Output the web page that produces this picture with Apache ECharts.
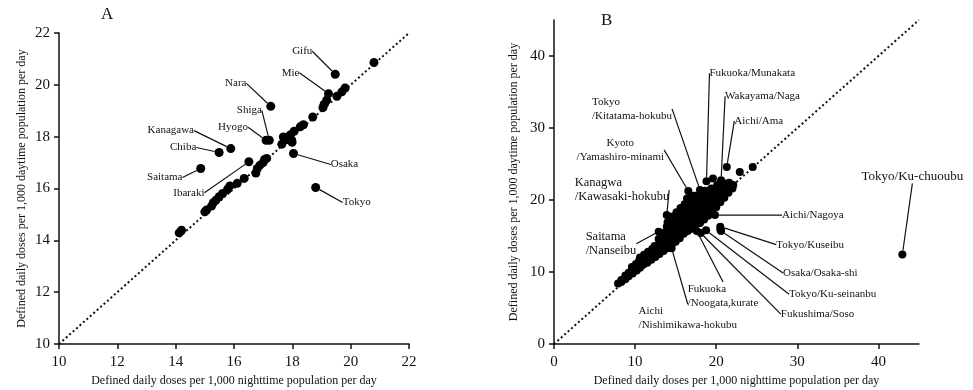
<!DOCTYPE html>
<html><head><meta charset="utf-8">
<script src="https://cdn.jsdelivr.net/npm/echarts@6/dist/echarts.min.js"></script>
<style>html,body{margin:0;padding:0;background:#fff}#c{width:973px;height:390px}</style>
</head><body><div id="c"></div>
<script>
// ---------- tick labels ----------
const ticksA = [10, 12, 14, 16, 18, 20, 22];
const ticksB = [0, 10, 20, 30, 40];
const identityA = [10, 22];
const identityB = [0, 45];

// ---------- Panel A: prefectures (nighttime DDD, daytime DDD) ----------
const prefOther = [
  [20.8,20.86],[19.53,19.56],[19.7,19.73],[19.81,19.88],[19.18,19.41],[19.09,19.25],
  [19.05,19.12],[18.7,18.76],[18.38,18.46],[18.27,18.38],[18.06,18.21],[17.92,18.06],
  [17.69,17.99],[17.81,17.89],[17.98,17.86],[17.64,17.71],[17.99,17.78],[17.12,17.16],
  [17.0,17.0],[16.89,16.9],[16.8,16.77],[16.75,16.6],[16.35,16.39],[16.11,16.2],
  [15.86,16.1],[15.78,15.97],[15.61,15.81],[15.49,15.68],[15.38,15.55],[15.29,15.45],
  [15.23,15.32],[15.0,15.1],[15.06,15.17],[14.2,14.39],[14.12,14.29],[17.05,17.12]
];
const prefNames = ['Gifu','Mie','Nara','Shiga','Hyogo','Kanagawa','Chiba','Saitama','Ibaraki','Osaka','Tokyo'];
const prefValues = [
  [19.47,20.41],[19.24,19.66],[17.26,19.17],[17.21,17.86],[17.1,17.86],[15.89,17.54],
  [15.49,17.39],[14.86,16.77],[16.51,17.03],[18.04,17.35],[18.8,16.04]
];

// ---------- Panel B: secondary medical areas ----------
const areaOther = [
  [7.9,8.4],[8.3,8.6],[8.3,8.9],[8.8,9.0],[8.8,9.5],[9.2,9.4],[9.2,9.9],[9.7,9.8],[9.7,10.3],[9.6,10.7],
  [10.2,10.2],[10.2,10.7],[10.1,11.1],[10.6,10.6],[10.6,11.1],[10.5,11.6],[10.6,12.0],
  [11.0,11.0],[11.0,11.5],[11.0,12.0],[11.1,12.4],[11.5,11.3],[11.5,11.8],[11.5,12.3],[11.6,12.8],
  [12.0,11.7],[12.0,12.2],[12.0,12.7],[12.1,13.2],[12.5,12.1],[12.5,12.6],[12.5,13.1],[12.4,13.6],
  [13.0,12.5],[13.0,13.0],[13.0,13.5],[13.0,14.0],[12.9,14.6],[13.5,12.9],[13.5,13.4],[13.5,13.9],
  [13.5,14.4],[13.4,14.9],[13.5,15.4],[14.0,13.3],[14.0,13.8],[14.0,14.3],[14.0,14.8],[14.0,15.3],
  [14.0,15.8],[13.9,16.3],[14.0,16.9],[14.5,13.8],[14.5,14.3],[14.5,14.8],[14.5,15.3],[14.5,15.8],
  [14.5,16.3],[14.5,16.8],[14.4,17.3],[14.6,17.7],[15.0,14.2],[15.0,14.7],[15.0,15.2],[15.0,15.7],
  [15.0,16.2],[15.0,16.7],[15.0,17.2],[15.0,17.7],[15.1,18.3],[15.5,14.7],[15.5,15.2],[15.5,15.7],
  [15.5,16.2],[15.5,16.7],[15.5,17.2],[15.5,17.7],[15.5,18.2],[15.6,18.9],[16.0,15.3],[16.0,15.8],
  [16.0,16.3],[16.0,16.8],[16.0,17.3],[16.0,17.8],[16.0,18.3],[16.0,18.8],[16.1,19.4],[16.5,15.7],
  [16.5,16.2],[16.5,16.7],[16.5,17.2],[16.5,17.7],[16.5,18.2],[16.5,18.7],[16.5,19.2],[16.5,19.7],
  [16.4,20.2],[17.0,16.0],[17.0,16.5],[17.0,17.0],[17.0,17.5],[17.0,18.0],[17.0,18.5],[17.0,19.0],
  [17.0,19.5],[17.0,20.0],[17.1,20.6],[17.5,16.6],[17.5,17.1],[17.5,17.6],[17.5,18.1],[17.5,18.6],
  [17.5,19.1],[17.5,19.6],[17.5,20.1],[17.4,20.6],[18.0,16.8],[18.0,17.3],[18.0,17.8],[18.0,18.3],
  [18.0,18.8],[18.0,19.3],[18.0,19.8],[18.0,20.3],[18.1,20.8],[18.5,17.3],[18.5,17.8],[18.5,18.3],
  [18.5,18.8],[18.5,19.3],[18.5,19.8],[18.5,20.3],[18.5,20.8],[18.6,21.3],[19.0,17.8],[19.0,18.3],
  [19.0,18.8],[19.0,19.3],[19.0,19.8],[19.0,20.3],[19.0,20.8],[19.0,21.3],[19.5,18.2],[19.5,18.7],
  [19.5,19.2],[19.5,19.7],[19.5,20.2],[19.5,20.7],[19.5,21.2],[19.4,21.6],[20.0,19.0],[20.0,19.5],
  [20.0,20.0],[20.0,20.5],[20.0,21.0],[20.0,21.5],[20.1,22.0],[20.5,19.7],[20.5,20.2],[20.5,20.7],
  [20.5,21.2],[20.5,21.7],[20.4,22.2],[21.0,20.3],[21.0,20.8],[21.0,21.3],[21.0,21.8],[21.1,22.3],
  [21.5,21.0],[21.5,21.5],[21.5,22.0],[21.6,22.4],[22.0,21.6],[22.1,22.1],[19.6,23.0],[22.9,23.9],
  [24.5,24.6],[20.5,15.9],[19.4,18.1]
];
const areaNames = [
  'Tokyo/Ku-chuoubu','Aichi/Ama','Fukuoka/Munakata','Wakayama/Naga','Tokyo\n/Kitatama-hokubu',
  'Kyoto\n/Yamashiro-minami','Kanagwa\n/Kawasaki-hokubu','Saitama\n/Nanseibu',
  'Aichi\n/Nishimikawa-hokubu','Fukuoka\n/Noogata,kurate','Aichi/Nagoya','Tokyo/Kuseibu',
  'Osaka/Osaka-shi','Tokyo/Ku-seinanbu','Fukushima/Soso'
];
const areaValues = [
  [42.95,12.44],[21.3,24.6],[18.8,22.6],[20.6,22.75],[18.0,21.4],
  [16.56,21.26],[13.9,17.9],[12.9,15.6],
  [14.5,13.3],[17.6,15.7],[19.85,17.9],[20.5,16.3],
  [20.6,15.7],[18.75,15.8],[18.1,15.4]
];

// ---------- label placement (pixel offsets from the point) ----------
const offA = [[-33,-23],[-38,-21],[-35,-23],[-20,-30],[-33,-13],[-60,-18],[-36,-5],[-36,9],[-60,31],[51,11],[41,15]];
const offB = [
  [10,-78,'center',13],[32,-46,'center',11],[3,-108,'left',11],[4,-84,'left',11],[-108,-81,'left',11],
  [-68,-41,'center',11],[-92,-25,'left',12.5],[-73,12,'left',12.5],
  [-33,70,'left',11],[-9,65,'left',11],[67,0,'left',11],[56,18,'left',11],
  [62,42,'left',11],[83,64,'left',11],[80,81,'left',11]
];

const FONT = 'Liberation Serif, Times New Roman, serif';
const INK = '#111';

function axis(gi, min, max, interval, name, gap, ticks, isY) {
  const a = {
    type: 'value', gridIndex: gi, min: min, max: max, interval: interval,
    name: name, nameLocation: 'middle', nameGap: gap,
    nameTextStyle: {fontFamily: FONT, fontSize: 12, color: INK},
    axisLine: {show: true, onZero: false, lineStyle: {color: INK, width: 1.5}},
    axisTick: {show: true, length: 5, lineStyle: {color: INK, width: 1.5}},
    axisLabel: {fontFamily: FONT, fontSize: 15, color: INK, margin: isY ? 9 : 11},
    splitLine: {show: false}
  };
  if (ticks) {
    a.axisTick.customValues = ticks;
    a.axisLabel.customValues = ticks;
  }
  return a;
}

const dotted = {color: '#111', width: 2, type: [2, 2.6]};
const dot = {color: '#000', opacity: 1};

const option = {
  animation: false,
  backgroundColor: '#fff',
  title: [
    {text: 'A', left: 101, top: 6, padding: 0, textStyle: {fontFamily: FONT, fontSize: 17, fontWeight: 'normal', color: INK}},
    {text: 'B', left: 601, top: 12, padding: 0, textStyle: {fontFamily: FONT, fontSize: 17, fontWeight: 'normal', color: INK}}
  ],
  grid: [
    {left: 59, top: 33, width: 350, height: 311, containLabel: false, outerBoundsMode: 'none'},
    {left: 554, top: 20, width: 365, height: 324, containLabel: false, outerBoundsMode: 'none'}
  ],
  xAxis: [
    axis(0, 10, 22, 2, 'Defined daily doses per 1,000 nighttime population per day', 30, null, false),
    axis(1, 0, 45, 5, 'Defined daily doses per 1,000 nighttime population per day', 30, ticksB, false)
  ],
  yAxis: [
    axis(0, 10, 22, 2, 'Defined daily doses per 1,000 daytime population per day', 31, null, true),
    axis(1, 0, 45, 5, 'Defined daily doses per 1,000 daytime population per day', 34, ticksB, true)
  ],
  series: [
    {type: 'line', xAxisIndex: 0, yAxisIndex: 0, data: [[identityA[0], identityA[0]], [identityA[1], identityA[1]]],
     symbol: 'none', lineStyle: dotted, silent: true, z: 1},
    {type: 'line', xAxisIndex: 1, yAxisIndex: 1, data: [[identityB[0], identityB[0]], [identityB[1], identityB[1]]],
     symbol: 'none', lineStyle: dotted, silent: true, z: 1},
    {type: 'scatter', xAxisIndex: 0, yAxisIndex: 0, data: prefOther, symbolSize: 9,
     itemStyle: dot, z: 3},
    {type: 'scatter', xAxisIndex: 0, yAxisIndex: 0, symbolSize: 9, itemStyle: dot, z: 3,
     data: prefNames.map((n, i) => ({name: n, value: prefValues[i]})),
     label: {show: true, position: 'inside', formatter: '{b}', fontFamily: FONT, fontSize: 11, color: INK,
             align: 'center', verticalAlign: 'middle'},
     labelLine: {show: true, lineStyle: {color: INK, width: 1.2}},
     labelLayout: p => ({dx: offA[p.dataIndex][0], dy: offA[p.dataIndex][1]})},
    {type: 'scatter', xAxisIndex: 1, yAxisIndex: 1, data: areaOther, symbolSize: 8,
     itemStyle: dot, z: 3},
    {type: 'scatter', xAxisIndex: 1, yAxisIndex: 1, symbolSize: 8, itemStyle: dot, z: 3,
     data: areaNames.map((n, i) => ({
       name: n, value: areaValues[i],
       label: {align: offB[i][2], fontSize: offB[i][3]}
     })),
     label: {show: true, position: 'inside', formatter: '{b}', fontFamily: FONT, fontSize: 11, color: INK,
             verticalAlign: 'middle', lineHeight: 14},
     labelLine: {show: true, lineStyle: {color: INK, width: 1.2}},
     labelLayout: p => ({dx: offB[p.dataIndex][0], dy: offB[p.dataIndex][1]})}
  ]
};

const chart = echarts.init(document.getElementById('c'), null, {renderer: 'canvas'});
chart.setOption(option);
</script>
</body></html>
